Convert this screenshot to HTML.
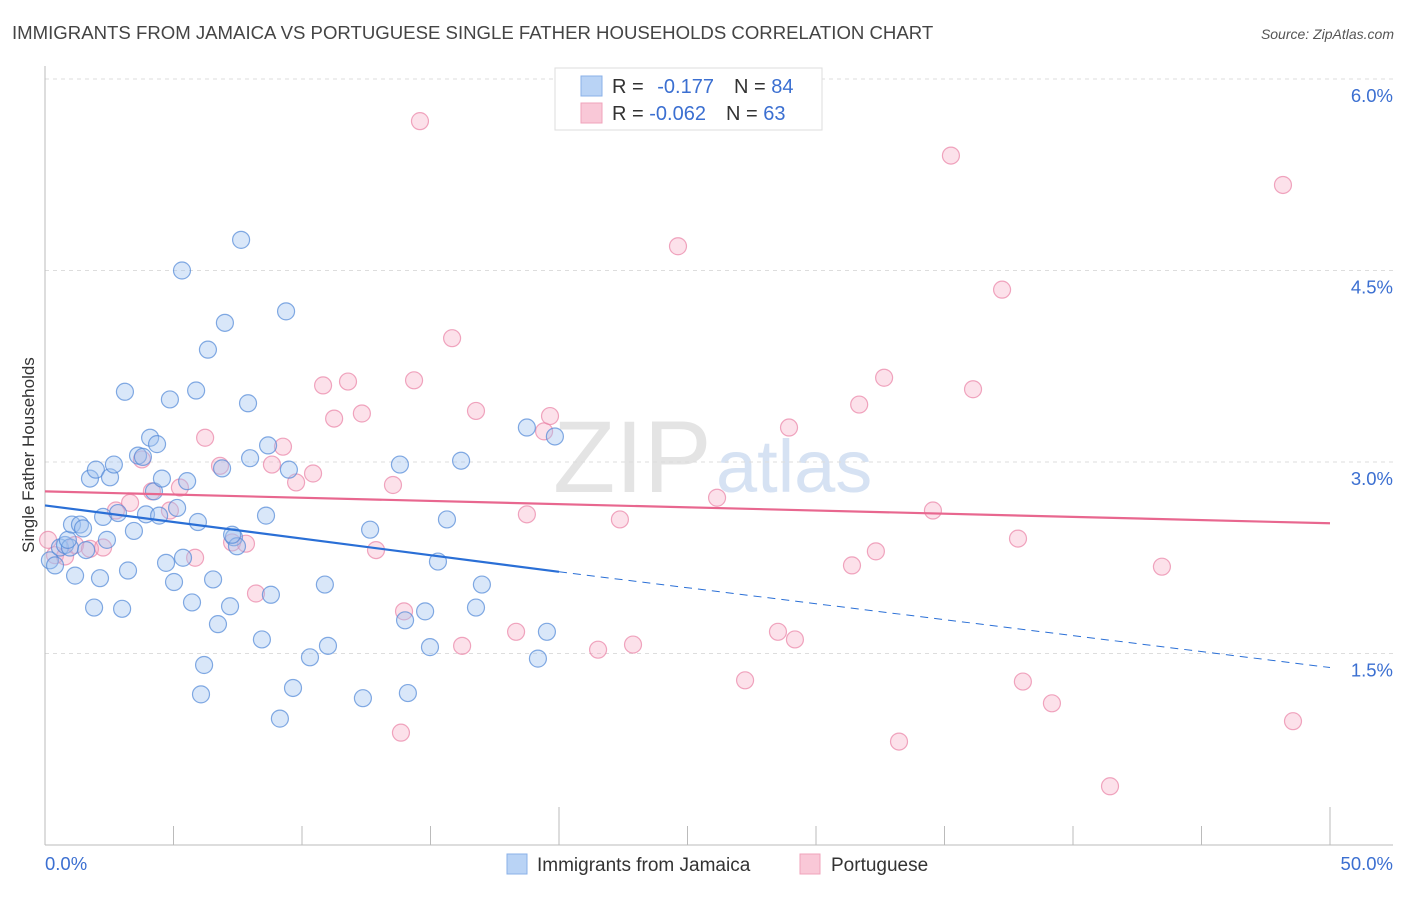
<!DOCTYPE html>
<html><head><meta charset="utf-8"><style>
body{margin:0;background:#fff;font-family:"Liberation Sans",sans-serif}
svg text{font-family:"Liberation Sans",sans-serif}
</style></head><body>
<svg id="c" width="1406" height="892">
<text x="12" y="39" font-size="18.6" fill="#444">IMMIGRANTS FROM JAMAICA VS PORTUGUESE SINGLE FATHER HOUSEHOLDS CORRELATION CHART</text>
<text x="1394" y="39" font-size="14" fill="#555" font-style="italic" text-anchor="end">Source: ZipAtlas.com</text>
<text x="553" y="492" font-size="102" fill="#e4e4e4" font-family="Liberation Serif">ZIP</text>
<text x="716" y="492" font-size="74" fill="#d6e2f3">atlas</text>
<text transform="translate(34,455) rotate(-90)" font-size="17" fill="#333" text-anchor="middle">Single Father Households</text>
<g id="grid"></g><g id="axes"></g><g id="pts"></g><g id="trend"></g>
<g>
<rect x="555" y="68" width="267" height="62" fill="#fff" stroke="#ddd"/>
<rect x="581" y="76" width="21" height="20" fill="#b9d3f5" stroke="#8ab0e8"/>
<rect x="581" y="103" width="21" height="20" fill="#f9c8d7" stroke="#f0a3bb"/>
<text x="612" y="93" font-size="20" fill="#333">R = <tspan fill="#3b6fd1" dx="8">-0.177</tspan><tspan dx="20" fill="#333">N = </tspan><tspan fill="#3b6fd1">84</tspan></text>
<text x="612" y="120" font-size="20" fill="#333">R = <tspan fill="#3b6fd1">-0.062</tspan><tspan dx="20" fill="#333">N = </tspan><tspan fill="#3b6fd1">63</tspan></text>
</g>
<g>
<rect x="507" y="854" width="20" height="20" fill="#b9d3f5" stroke="#8ab0e8"/>
<text x="537" y="871" font-size="19" fill="#333">Immigrants from Jamaica</text>
<rect x="800" y="854" width="20" height="20" fill="#f9c8d7" stroke="#f0a3bb"/>
<text x="831" y="871" font-size="19" fill="#333">Portuguese</text>
</g>
</svg>
<script>
const yTicks=[1.5,3.0,4.5,6.0];
const yTickLabels=["1.5%","3.0%","4.5%","6.0%"];
const xTickLabels=["0.0%","50.0%"];
const jamX=[0.19,0.39,0.58,0.78,0.97,0.89,1.05,1.17,1.36,1.48,1.60,1.75,1.91,1.98,2.14,2.26,2.41,2.53,2.68,2.84,3.00,3.11,3.23,3.46,3.62,3.81,3.93,4.09,4.24,4.36,4.44,4.55,4.71,4.86,5.02,5.14,5.33,5.37,5.53,5.72,5.88,5.95,6.07,6.19,6.34,6.54,6.73,6.89,7.00,7.20,7.35,7.47,7.63,7.90,7.98,8.44,8.60,8.68,8.79,9.14,9.38,9.49,9.65,10.31,10.89,11.01,12.37,12.65,13.81,14.01,14.12,14.79,14.98,15.29,15.64,16.19,16.77,17.00,18.75,19.18,19.53,19.84,7.28];
const jamY=[2.23,2.19,2.33,2.35,2.33,2.39,2.51,2.11,2.51,2.48,2.31,2.87,1.86,2.94,2.09,2.57,2.39,2.88,2.98,2.60,1.85,3.55,2.15,2.46,3.05,3.04,2.59,3.19,2.77,3.14,2.58,2.87,2.21,3.49,2.06,2.64,4.50,2.25,2.85,1.90,3.56,2.53,1.18,1.41,3.88,2.08,1.73,2.95,4.09,1.87,2.41,2.34,4.74,3.46,3.03,1.61,2.58,3.13,1.96,0.99,4.18,2.94,1.23,1.47,2.04,1.56,1.15,2.47,2.98,1.76,1.19,1.83,1.55,2.22,2.55,3.01,1.86,2.04,3.27,1.46,1.67,3.20,2.43];
const porX=[0.12,0.39,0.78,1.17,1.75,2.26,2.76,3.31,3.77,4.16,4.86,5.25,5.84,6.23,6.81,7.28,7.82,8.21,8.83,9.26,9.77,10.43,10.82,11.25,11.79,12.33,12.88,13.54,13.85,13.97,14.36,14.59,15.84,16.23,16.77,18.33,18.75,19.42,19.65,21.52,22.37,22.88,24.63,26.15,27.24,28.52,28.95,29.18,31.40,31.68,32.33,32.65,33.23,34.55,35.25,36.11,37.24,37.86,38.05,39.18,41.44,43.46,48.17,48.56];
const porY=[2.39,2.27,2.26,2.35,2.32,2.33,2.62,2.68,3.02,2.77,2.62,2.80,2.25,3.19,2.97,2.37,2.36,1.97,2.98,3.12,2.84,2.91,3.60,3.34,3.63,3.38,2.31,2.82,0.88,1.83,3.64,5.67,3.97,1.56,3.40,1.67,2.59,3.24,3.36,1.53,2.55,1.57,4.69,2.72,1.29,1.67,3.27,1.61,2.19,3.45,2.30,3.66,0.81,2.62,5.40,3.57,4.35,2.40,1.28,1.11,0.46,2.18,5.17,0.97];
const jamTrend=[2.66,2.14,1.39]; // at x=0,20,50
const porTrend=[2.77,2.52]; // at x=0,50
const NS="http://www.w3.org/2000/svg";
const X=v=>45+v/50*1285, Y=v=>845-v/1.5*191.5;
function mk(t,a,p){const e=document.createElementNS(NS,t);for(const k in a)e.setAttribute(k,a[k]);document.getElementById(p).appendChild(e);return e;}
yTicks.forEach((t,i)=>{
 const l=mk('line',{x1:45,x2:1393,y1:Y(t),y2:Y(t),stroke:'#ddd','stroke-dasharray':'4,4'},'grid');
 
 
 const tx=mk('text',{x:1393,y:Y(t)+23,'font-size':18.5,fill:'#3b6fd1','text-anchor':'end'},'grid');
 tx.textContent=yTickLabels[i];
 
 
});
let a=mk('line',{x1:45,x2:45,y1:66,y2:845,stroke:'#bbb'},'axes');


a=mk('line',{x1:45,x2:1393,y1:845,y2:845,stroke:'#bbb'},'axes');


for(let i=1;i<=10;i++){const v=i*5;const major=(v===20||v===50);
 const t=mk('line',{x1:X(v),x2:X(v),y1:major?807:826,y2:845,stroke:'#bbb'},'axes');
 
 }
[[0,45,'start'],[50,1393,'end']].forEach((d,i)=>{const t=mk('text',{x:d[1],y:870,'font-size':18.5,fill:'#3b6fd1','text-anchor':d[2]},'axes');
 t.textContent=xTickLabels[i];
 
 });
porX.forEach((v,i)=>{const c=mk('circle',{cx:X(v),cy:Y(porY[i]),r:8.5,fill:'rgba(246,170,195,0.35)',stroke:'rgba(234,130,165,0.7)','stroke-width':1.2},'pts');
 
 });
jamX.forEach((v,i)=>{const c=mk('circle',{cx:X(v),cy:Y(jamY[i]),r:8.5,fill:'rgba(160,195,240,0.4)',stroke:'rgba(80,135,215,0.7)','stroke-width':1.2},'pts');
 
 });
let t=mk('line',{x1:X(0),y1:Y(jamTrend[0]),x2:X(20),y2:Y(jamTrend[1]),stroke:'#2a6fd6','stroke-width':2.2},'trend');


t=mk('line',{x1:X(20),y1:Y(jamTrend[1]),x2:X(50),y2:Y(jamTrend[2]),stroke:'#2a6fd6','stroke-width':1,'stroke-dasharray':'8,6'},'trend');


t=mk('line',{x1:X(0),y1:Y(porTrend[0]),x2:X(50),y2:Y(porTrend[1]),stroke:'#e8678f','stroke-width':2.2},'trend');


</script>
</body></html>
